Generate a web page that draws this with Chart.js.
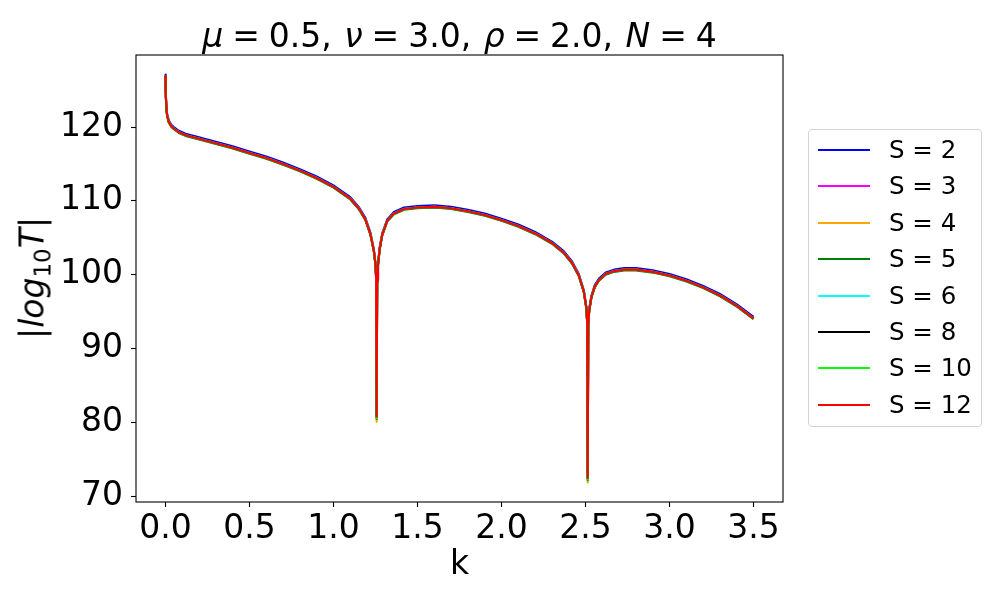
<!DOCTYPE html>
<html>
<head>
<meta charset="utf-8">
<script src="https://cdn.jsdelivr.net/npm/chart.js@4"></script>
<style>
  html, body { margin:0; padding:0; background:#fff; }
  #wrap { position:relative; width:1000px; height:600px; font-family:"DejaVu Sans", sans-serif; color:#000; }
  #plot { position:absolute; left:0; top:0; }
  #title { position:absolute; left:136px; width:647px; top:19px; text-align:center; font-size:33px; line-height:33px; white-space:nowrap; }
  #title i { font-style:italic; }
  #title .eq { margin:0 0.27em; }
  #title .cm { margin-right:0.38em; }
  #ylab { position:absolute; left:32px; top:278px; font-size:33px; line-height:33px; white-space:nowrap;
          transform:translate(-50%,-50%) rotate(-90deg); }
  #ylab sub { font-size:23px; vertical-align:-7px; line-height:0; font-style:normal; }
  #xlab { position:absolute; left:136px; width:647px; top:546px; text-align:center; font-size:33px; line-height:33px; }
  #legend { position:absolute; left:808px; top:129px; width:174px; height:298px; border:1px solid #d4d4d4; border-radius:4px; box-sizing:border-box; }
  .row { position:absolute; left:0; height:30px; font-size:24.5px; line-height:30px; white-space:nowrap; }
  .row span.ln { position:absolute; left:9px; top:14px; width:52px; height:2px; }
  .row span.tx { position:absolute; left:80px; top:0; }
</style>
</head>
<body>
<div id="wrap">
  <canvas id="plot" width="1000" height="600"></canvas>
  <div id="title"><i>μ</i><span class="eq">=</span>0.5<span class="cm">,</span><i>ν</i><span class="eq">=</span>3.0<span class="cm">,</span><i>ρ</i><span class="eq">=</span>2.0<span class="cm">,</span><i>N</i><span class="eq">=</span>4</div>
  <div id="ylab">|<i>log</i><sub>10</sub><i>T</i>|</div>
  <div id="xlab">k</div>
  <div id="legend"></div>
</div>
<script>
// valores (k en el eje x, |log10 T| en el eje y)
const kVals = [0, 0.002, 0.005, 0.01, 0.02, 0.035, 0.05, 0.08, 0.12, 0.2,
  0.3, 0.4, 0.5, 0.6, 0.7, 0.8, 0.9, 1.0, 1.1, 1.15,
  1.19, 1.22, 1.24, 1.25, 1.254, 1.257, 1.26, 1.265, 1.275, 1.29,
  1.32, 1.36, 1.42, 1.5, 1.6, 1.7, 1.8, 1.9, 2.0, 2.1,
  2.2, 2.3, 2.37, 2.42, 2.46, 2.49, 2.505, 2.51, 2.513, 2.516,
  2.522, 2.535, 2.555, 2.58, 2.62, 2.67, 2.73, 2.8, 2.9, 3.0,
  3.1, 3.2, 3.3, 3.4, 3.5];

const logT_S2 = [127.1, 124.8, 123.1, 121.8, 120.9, 120.3, 120.0, 119.5, 119.1, 118.6,
  118.0, 117.4, 116.7, 116.0, 115.2, 114.3, 113.3, 112.1, 110.5, 109.2,
  107.7, 105.7, 103.5, 101.6, 99.7, 81.2, 99.4, 101.5, 103.7, 105.6,
  107.5, 108.5, 109.1, 109.3, 109.4, 109.2, 108.8, 108.3, 107.6, 106.8,
  105.8, 104.5, 103.2, 101.8, 100.1, 97.9, 95.7, 93.7, 73.0, 93.5,
  95.4, 97.2, 98.6, 99.5, 100.3, 100.7, 100.9, 100.9, 100.6, 100.1,
  99.4, 98.5, 97.4, 96.0, 94.3];

const logT_S3 = [126.9, 124.6, 122.9, 121.6, 120.7, 120.1, 119.8, 119.3, 118.9, 118.4,
  117.8, 117.2, 116.5, 115.8, 115.0, 114.1, 113.1, 111.9, 110.3, 109.0,
  107.5, 105.5, 103.3, 101.4, 99.5, 80.8, 99.2, 101.3, 103.5, 105.4,
  107.3, 108.3, 108.9, 109.1, 109.2, 109.0, 108.6, 108.1, 107.4, 106.6,
  105.6, 104.3, 103.0, 101.6, 99.9, 97.7, 95.5, 93.5, 72.6, 93.3,
  95.2, 97.0, 98.4, 99.3, 100.1, 100.5, 100.7, 100.7, 100.4, 99.9,
  99.2, 98.3, 97.2, 95.8, 94.1];

const logT_S4 = [126.9, 124.6, 122.9, 121.6, 120.7, 120.1, 119.8, 119.3, 118.9, 118.4,
  117.8, 117.2, 116.5, 115.8, 115.0, 114.1, 113.1, 111.9, 110.3, 109.0,
  107.5, 105.5, 103.3, 101.4, 99.5, 80.1, 99.2, 101.3, 103.5, 105.4,
  107.3, 108.3, 108.9, 109.1, 109.2, 109.0, 108.6, 108.1, 107.4, 106.6,
  105.6, 104.3, 103.0, 101.6, 99.9, 97.7, 95.5, 93.5, 71.9, 93.3,
  95.2, 97.0, 98.4, 99.3, 100.1, 100.5, 100.7, 100.7, 100.4, 99.9,
  99.2, 98.3, 97.2, 95.8, 94.1];

const logT_S5 = [126.8, 124.5, 122.8, 121.5, 120.6, 120.0, 119.7, 119.2, 118.8, 118.3,
  117.7, 117.1, 116.4, 115.7, 114.9, 114.0, 113.0, 111.8, 110.2, 108.9,
  107.4, 105.4, 103.2, 101.3, 99.4, 80.5, 99.1, 101.2, 103.4, 105.3,
  107.2, 108.2, 108.8, 109.0, 109.1, 108.9, 108.5, 108.0, 107.3, 106.5,
  105.5, 104.2, 102.9, 101.5, 99.8, 97.6, 95.4, 93.4, 72.2, 93.2,
  95.1, 96.9, 98.3, 99.2, 100.0, 100.4, 100.6, 100.6, 100.3, 99.8,
  99.1, 98.2, 97.1, 95.7, 94.0];

const logT_S6 = [126.9, 124.6, 122.9, 121.6, 120.7, 120.1, 119.8, 119.3, 118.9, 118.4,
  117.8, 117.2, 116.5, 115.8, 115.0, 114.1, 113.1, 111.9, 110.3, 109.0,
  107.5, 105.5, 103.3, 101.4, 99.5, 80.8, 99.2, 101.3, 103.5, 105.4,
  107.3, 108.3, 108.9, 109.1, 109.2, 109.0, 108.6, 108.1, 107.4, 106.6,
  105.6, 104.3, 103.0, 101.6, 99.9, 97.7, 95.5, 93.5, 72.5, 93.3,
  95.2, 97.0, 98.4, 99.3, 100.1, 100.5, 100.7, 100.7, 100.4, 99.9,
  99.2, 98.3, 97.2, 95.8, 94.1];

const logT_S8 = [126.9, 124.6, 122.9, 121.6, 120.7, 120.1, 119.8, 119.3, 118.9, 118.4,
  117.8, 117.2, 116.5, 115.8, 115.0, 114.1, 113.1, 111.9, 110.3, 109.0,
  107.5, 105.5, 103.3, 101.4, 99.5, 80.8, 99.2, 101.3, 103.5, 105.4,
  107.3, 108.3, 108.9, 109.1, 109.2, 109.0, 108.6, 108.1, 107.4, 106.6,
  105.6, 104.3, 103.0, 101.6, 99.9, 97.7, 95.5, 93.5, 72.5, 93.3,
  95.2, 97.0, 98.4, 99.3, 100.1, 100.5, 100.7, 100.7, 100.4, 99.9,
  99.2, 98.3, 97.2, 95.8, 94.1];

const logT_S10 = [126.9, 124.6, 122.9, 121.6, 120.7, 120.1, 119.8, 119.3, 118.9, 118.4,
  117.8, 117.2, 116.5, 115.8, 115.0, 114.1, 113.1, 111.9, 110.3, 109.0,
  107.5, 105.5, 103.3, 101.4, 99.5, 80.6, 99.2, 101.3, 103.5, 105.4,
  107.3, 108.3, 108.9, 109.1, 109.2, 109.0, 108.6, 108.1, 107.4, 106.6,
  105.6, 104.3, 103.0, 101.6, 99.9, 97.7, 95.5, 93.5, 72.3, 93.3,
  95.2, 97.0, 98.4, 99.3, 100.1, 100.5, 100.7, 100.7, 100.4, 99.9,
  99.2, 98.3, 97.2, 95.8, 94.1];

const logT_S12 = [126.9, 124.6, 122.9, 121.6, 120.7, 120.1, 119.8, 119.3, 118.9, 118.4,
  117.8, 117.2, 116.5, 115.8, 115.0, 114.1, 113.1, 111.9, 110.3, 109.0,
  107.5, 105.5, 103.3, 101.4, 99.5, 80.8, 99.2, 101.3, 103.5, 105.4,
  107.3, 108.3, 108.9, 109.1, 109.2, 109.0, 108.6, 108.1, 107.4, 106.6,
  105.6, 104.3, 103.0, 101.6, 99.9, 97.7, 95.5, 93.5, 72.5, 93.3,
  95.2, 97.0, 98.4, 99.3, 100.1, 100.5, 100.7, 100.7, 100.4, 99.9,
  99.2, 98.3, 97.2, 95.8, 94.1];

const seriesLabels = ['S = 2', 'S = 3', 'S = 4', 'S = 5', 'S = 6', 'S = 8', 'S = 10', 'S = 12'];
const seriesValues = [logT_S2, logT_S3, logT_S4, logT_S5, logT_S6, logT_S8, logT_S10, logT_S12];
const seriesColors = ['#0000ff', '#ff00ff', '#ffa500', '#008000', '#00ffff', '#000000', '#00ff00', '#ff0000'];

const xTicks = [0, 0.5, 1.0, 1.5, 2.0, 2.5, 3.0, 3.5];
const yTicks = [70, 80, 90, 100, 110, 120];

// marco completo (los 4 lados) como en matplotlib
const framePlugin = {
  id:'frame',
  afterDatasetsDraw(chart){
    const a = chart.chartArea, ctx = chart.ctx;
    ctx.save();
    ctx.strokeStyle = '#000';
    ctx.lineWidth = 1.1;
    ctx.strokeRect(a.left, a.top, a.right - a.left, a.bottom - a.top);
    ctx.restore();
  }
};

const n = seriesValues.length;
const datasets = seriesValues.map((vals, i) => ({
  label: seriesLabels[i],
  data: kVals.map((k, j) => ({x:k, y:vals[j]})),
  borderColor: seriesColors[i],
  backgroundColor: seriesColors[i],
  borderWidth: 2.1,
  borderJoinStyle: 'round',
  pointRadius: 0,
  tension: 0,
  fill: false,
  order: n - 1 - i   // S = 12 queda arriba, como en el original
}));

const tickFont = {family:'"DejaVu Sans", sans-serif', size:33};

new Chart(document.getElementById('plot').getContext('2d'), {
  type:'line',
  data:{datasets},
  options:{
    responsive:false, devicePixelRatio:1, animation:false,
    layout:{padding:{left:0, top:55, right:217, bottom:0}},
    plugins:{legend:{display:false}, title:{display:false}, tooltip:{enabled:false}},
    scales:{
      x:{type:'linear', min:-0.175, max:3.675,
        afterBuildTicks: s => { s.ticks = xTicks.map(v => ({value:v})); },
        afterFit: s => { s.height = 98; },
        grid:{drawOnChartArea:false, drawTicks:true, tickLength:5, color:'#000', tickWidth:1.1},
        border:{display:false},
        ticks:{color:'#000', font:tickFont, padding:3, maxRotation:0, autoSkip:false,
          callback: v => v.toFixed(1)}
      },
      y:{type:'linear', min:69.25, max:129.75,
        afterBuildTicks: s => { s.ticks = yTicks.map(v => ({value:v})); },
        afterFit: s => { s.width = 136; },
        grid:{drawOnChartArea:false, drawTicks:true, tickLength:5, color:'#000', tickWidth:1.1},
        border:{display:false},
        ticks:{color:'#000', font:tickFont, padding:8, autoSkip:false,
          callback: v => String(v)}
      }
    }
  },
  plugins:[framePlugin]
});

// leyenda (caja a la derecha, como en matplotlib)
const leg = document.getElementById('legend');
seriesLabels.forEach((lab, i) => {
  const row = document.createElement('div');
  row.className = 'row';
  row.style.top = (5 + i * 36.4) + 'px';
  row.innerHTML = '<span class="ln" style="background:' + seriesColors[i] + '"></span><span class="tx">' + lab + '</span>';
  leg.appendChild(row);
});
</script>
</body>
</html>
